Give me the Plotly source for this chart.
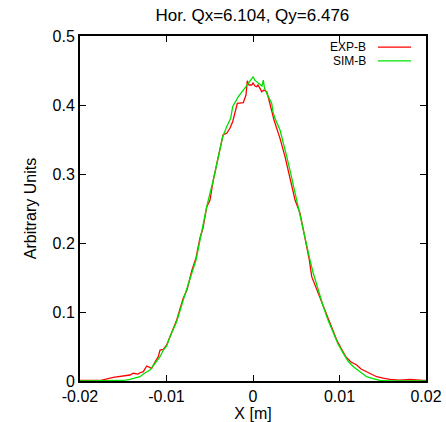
import plotly.graph_objects as go

# EXP-B (measured) profile
exp_x = [-0.0200, -0.01769, -0.01615, -0.01538, -0.01460, -0.01422, -0.01384, -0.01329, -0.01306, -0.01268,
         -0.01229, -0.01171, -0.01133, -0.01095, -0.01075, -0.01037, -0.00998, -0.00960, -0.00882, -0.00806,
         -0.00763, -0.00709, -0.00659, -0.00613, -0.00578, -0.00535, -0.00497, -0.00459, -0.00401, -0.00347,
         -0.00301, -0.00266, -0.00235, -0.00208, -0.00181, -0.00112, -0.00081, -0.00066, -0.00046, -0.00015,
         0.0, 0.00023, 0.00043, 0.00058, 0.00081, 0.00101, 0.00127, 0.00158, 0.00173, 0.00197,
         0.00220, 0.00243, 0.00277, 0.00312, 0.00370, 0.00428, 0.00486, 0.00543, 0.00601, 0.00651,
         0.00679, 0.00728, 0.00798, 0.00867, 0.00913, 0.00968, 0.01017, 0.01075, 0.01133, 0.01199,
         0.01249, 0.01314, 0.01376, 0.01430, 0.01503, 0.01584, 0.01699, 0.01815, 0.01965, 0.0200]
exp_y = [0.0007, 0.0007, 0.0051, 0.0062, 0.0072, 0.0087, 0.0112, 0.0101, 0.0120, 0.0135,
         0.0217, 0.0184, 0.0275, 0.0352, 0.0449, 0.0459, 0.0522, 0.0638, 0.0884, 0.1203,
         0.1319, 0.1594, 0.1783, 0.2072, 0.2217, 0.2522, 0.2623, 0.2913, 0.3246, 0.3565,
         0.3594, 0.3667, 0.3758, 0.3899, 0.4025, 0.4033, 0.4145, 0.4352, 0.4290, 0.4290,
         0.4319, 0.4275, 0.4265, 0.4290, 0.4232, 0.4193, 0.4217, 0.4193, 0.4130, 0.4025,
         0.3899, 0.3783, 0.3667, 0.3517, 0.3251, 0.2913, 0.2623, 0.2435, 0.2091, 0.1754,
         0.1512, 0.1348, 0.1130, 0.0913, 0.0768, 0.0594, 0.0478, 0.0348, 0.0275, 0.0232,
         0.0174, 0.0135, 0.0101, 0.0062, 0.0043, 0.0025, 0.0014, 0.0022, 0.0010, 0.0010]

# SIM-B (simulated) profile
sim_x = [-0.0200, -0.01769, -0.01615, -0.01500, -0.01422, -0.01384, -0.01306, -0.01268, -0.01191, -0.01153,
         -0.01075, -0.01037, -0.00998, -0.00960, -0.00882, -0.00806, -0.00767, -0.00709, -0.00659, -0.00613,
         -0.00535, -0.00459, -0.00401, -0.00350, -0.00304, -0.00258, -0.00235, -0.00170, -0.00112, -0.00054,
         0.00003, 0.00020, 0.00061, 0.00104, 0.00119, 0.00133, 0.00158, 0.00216, 0.00231, 0.00254,
         0.00312, 0.00350, 0.00390, 0.00436, 0.00486, 0.00535, 0.00582, 0.00621, 0.00659, 0.00697,
         0.00751, 0.00813, 0.00867, 0.00928, 0.00983, 0.01044, 0.01098, 0.01160, 0.01237, 0.01314,
         0.01387, 0.01468, 0.01584, 0.0200]
sim_y = [0.0, 0.0, 0.0004, 0.0007, 0.0025, 0.0039, 0.0062, 0.0101, 0.0159, 0.0225,
         0.0352, 0.0449, 0.0507, 0.0642, 0.0862, 0.1174, 0.1319, 0.1561, 0.1754, 0.2043,
         0.2526, 0.2913, 0.3251, 0.3541, 0.3686, 0.3807, 0.3975, 0.4120, 0.4217, 0.4314,
         0.4410, 0.4360, 0.4314, 0.4275, 0.4360, 0.4246, 0.4170, 0.4025, 0.3899, 0.3807,
         0.3638, 0.3468, 0.3251, 0.3010, 0.2720, 0.2454, 0.2188, 0.1946, 0.1754, 0.1561,
         0.1319, 0.1077, 0.0884, 0.0691, 0.0536, 0.0401, 0.0290, 0.0207, 0.0130, 0.0062,
         0.0036, 0.0010, 0.0, 0.0]

x_ticks = [-0.02, -0.01, 0, 0.01, 0.02]
x_tick_text = ["-0.02", "-0.01", "0", "0.01", "0.02"]
y_ticks = [0, 0.1, 0.2, 0.3, 0.4, 0.5]
y_tick_text = ["0", "0.1", "0.2", "0.3", "0.4", "0.5"]

RED = "#ff0000"
GREEN = "#00e000"
FONT = "Liberation Sans, Arial, sans-serif"
FS = 16

fig = go.Figure()
fig.add_trace(go.Scatter(x=exp_x, y=exp_y, mode="lines", name="EXP-B",
                         line=dict(color=RED, width=1.3), showlegend=False))
fig.add_trace(go.Scatter(x=sim_x, y=sim_y, mode="lines", name="SIM-B",
                         line=dict(color=GREEN, width=1.3), showlegend=False))

axis_common = dict(showline=True, linecolor="black", linewidth=2, mirror="ticks",
                   ticks="inside", ticklen=6, tickwidth=1, tickcolor="black",
                   showgrid=False, zeroline=False, automargin=False,
                   tickfont=dict(family=FONT, size=FS, color="black"))

fig.update_xaxes(range=[-0.02, 0.02], tickvals=x_ticks, ticktext=x_tick_text,
                 title=dict(text="X [m]", font=dict(family=FONT, size=FS, color="black"), standoff=0),
                 **axis_common)
fig.update_yaxes(range=[0, 0.5], tickvals=y_ticks, ticktext=y_tick_text,
                 title=dict(text="Arbitrary Units", font=dict(family=FONT, size=FS, color="black"), standoff=12),
                 **axis_common)

# gnuplot-style key: text right-aligned, line sample to its right
legend_items = [("EXP-B", RED, 0.968), ("SIM-B", GREEN, 0.928)]
for name, col, yp in legend_items:
    fig.add_annotation(x=0.832, y=yp, xref="paper", yref="paper", text=name,
                       showarrow=False, xanchor="right", yanchor="middle",
                       font=dict(family=FONT, size=12, color="black"))
    fig.add_shape(type="line", xref="paper", yref="paper", x0=0.861, x1=0.957, y0=yp, y1=yp,
                  line=dict(color=col, width=1.3))

fig.update_layout(
    width=446, height=422,
    margin=dict(l=80, r=20, t=36, b=41),
    paper_bgcolor="white", plot_bgcolor="white",
    title=dict(text="Hor. Qx=6.104, Qy=6.476", x=0.566, xanchor="center", y=0.964, yanchor="middle",
               font=dict(family=FONT, size=17, color="black")),
)

fig.write_html("out.html")
